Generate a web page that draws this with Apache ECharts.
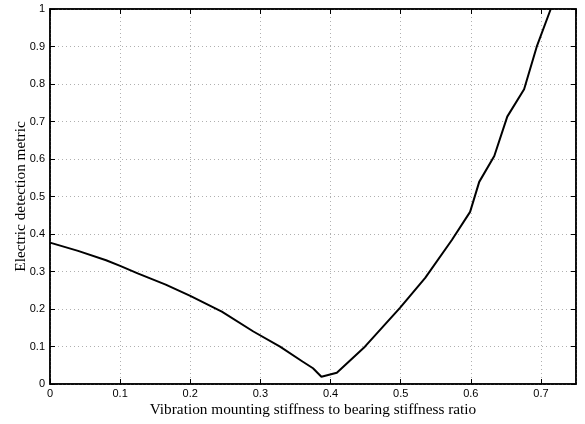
<!DOCTYPE html>
<html>
<head>
<meta charset="utf-8">
<script src="https://cdn.jsdelivr.net/npm/echarts@6/dist/echarts.min.js"></script>
<style>html,body{margin:0;padding:0;background:#fff}#c{width:585px;height:424px}</style>
</head>
<body>
<div id="c"></div>
<script>
const xValues = [0, 0.04, 0.08, 0.1, 0.125, 0.165, 0.2, 0.245, 0.29, 0.328, 0.36, 0.375, 0.387, 0.409, 0.449, 0.499, 0.535, 0.573, 0.599, 0.612, 0.6335, 0.652, 0.676, 0.694, 0.714];
const yValues = [0.377, 0.355, 0.33, 0.315, 0.295, 0.265, 0.235, 0.193, 0.14, 0.0995, 0.06, 0.042, 0.0195, 0.03, 0.0995, 0.203, 0.283, 0.384, 0.459, 0.539, 0.608, 0.713, 0.786, 0.8995, 1.0];
const xTitle = 'Vibration mounting stiffness to bearing stiffness ratio';
const yTitle = 'Electric detection metric';

const chart = echarts.init(document.getElementById('c'));
const tickFont = {fontFamily: 'Liberation Sans, Arial, sans-serif', fontSize: 11, color: '#000'};
const gridLine = {show: true, lineStyle: {color: '#b0b0b0', type: [1, 3], width: 1}};
const innerTick = {show: true, inside: true, length: 5, lineStyle: {color: '#000', width: 1}};
chart.setOption({
  animation: false,
  grid: {left: 50, right: 9, top: 9, bottom: 40, containLabel: false, outerBoundsMode: 'none',
         show: true, borderColor: '#000', borderWidth: 1.5, backgroundColor: 'transparent'},
  xAxis: [{
    type: 'value', min: 0, max: 0.75, interval: 0.1,
    axisLine: {show: true, onZero: false, lineStyle: {color: '#000', width: 1.5}},
    axisTick: innerTick,
    axisLabel: Object.assign({margin: 4, showMaxLabel: false,
      formatter: v => (Math.abs(v * 10 - Math.round(v * 10)) < 1e-6 ? String(+v.toFixed(1)) : '')}, tickFont),
    splitLine: gridLine,
    name: xTitle, nameLocation: 'middle', nameGap: 18, nameMoveOverlap: false,
    nameTextStyle: {fontFamily: 'Liberation Serif, Times New Roman, serif', fontSize: 15.3, color: '#000'}
  }, {
    type: 'value', position: 'top', min: 0, max: 0.75, interval: 0.1,
    axisLine: {show: true, onZero: false, lineStyle: {color: '#000', width: 1.5}},
    axisTick: innerTick,
    axisLabel: {show: false}, splitLine: {show: false}
  }],
  yAxis: [{
    type: 'value', min: 0, max: 1, interval: 0.1,
    axisLine: {show: true, onZero: false, lineStyle: {color: '#000', width: 1.5}},
    axisTick: innerTick,
    axisLabel: Object.assign({margin: 5, formatter: v => String(+v.toFixed(1))}, tickFont),
    splitLine: gridLine,
    name: yTitle, nameLocation: 'middle', nameGap: 22, nameRotate: 90, nameMoveOverlap: false,
    nameTextStyle: {fontFamily: 'Liberation Serif, Times New Roman, serif', fontSize: 15.3, color: '#000'}
  }, {
    type: 'value', position: 'right', min: 0, max: 1, interval: 0.1,
    axisLine: {show: true, onZero: false, lineStyle: {color: '#000', width: 1.5}},
    axisTick: innerTick,
    axisLabel: {show: false}, splitLine: {show: false}
  }],
  series: [{
    type: 'line', xAxisIndex: 0, yAxisIndex: 0,
    data: xValues.map((x, i) => [x, yValues[i]]),
    showSymbol: false, symbol: 'none',
    lineStyle: {color: '#000', width: 2},
    clip: true
  }, {
    type: 'line', xAxisIndex: 1, yAxisIndex: 1,
    data: [[0, 0], [0.75, 1]],
    showSymbol: false, symbol: 'none', silent: true,
    lineStyle: {opacity: 0, width: 0}
  }]
});
</script>
</body>
</html>
